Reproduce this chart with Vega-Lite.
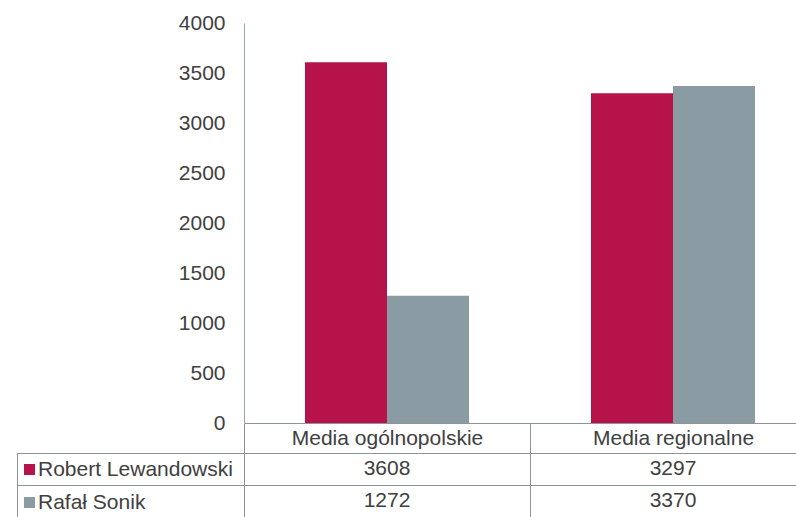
{
  "$schema": "https://vega.github.io/schema/vega-lite/v6.json",
  "padding": {"left": 16, "top": 12, "right": 0, "bottom": 0},
  "background": "white",
  "config": {
    "font": "Liberation Sans",
    "view": {"stroke": null},
    "axis": {"labelFont": "Liberation Sans", "labelFontSize": 21, "labelColor": "#404040", "labelLimit": 0}
  },
  "datasets": {
    "bars": [
      {"category": "Media ogólnopolskie", "series": "Robert Lewandowski", "value": 3608},
      {"category": "Media ogólnopolskie", "series": "Rafał Sonik", "value": 1272},
      {"category": "Media regionalne", "series": "Robert Lewandowski", "value": 3297},
      {"category": "Media regionalne", "series": "Rafał Sonik", "value": 3370}
    ]
  },
  "columns": 2,
  "spacing": {"row": 30, "column": 0},
  "bounds": "flush",
  "concat": [
    {
      "width": 227,
      "height": 400,
      "data": {"name": "bars"},
      "mark": {"type": "text", "text": ""},
      "encoding": {}
    },
    {
      "width": 572,
      "height": 400,
      "data": {"name": "bars"},
      "mark": {"type": "bar"},
      "encoding": {
        "x": {
          "field": "category", "type": "nominal",
          "sort": ["Media ogólnopolskie", "Media regionalne"],
          "scale": {"paddingInner": 0, "paddingOuter": 0},
          "axis": {
            "title": null, "orient": "bottom", "labelAngle": 0,
            "tickBand": "extent", "tickSize": 30, "tickColor": "#8C9497",
            "domainColor": "#8C9497", "labelPadding": -9, "labelBaseline": "alphabetic"
          }
        },
        "xOffset": {
          "field": "series", "type": "nominal",
          "sort": ["Robert Lewandowski", "Rafał Sonik"],
          "scale": {"paddingInner": 0, "paddingOuter": 0.744}
        },
        "y": {
          "field": "value", "type": "quantitative",
          "scale": {"domain": [0, 4000]},
          "axis": {
            "title": null, "values": [0, 500, 1000, 1500, 2000, 2500, 3000, 3500, 4000],
            "format": "d",
            "grid": false, "ticks": false, "labelPadding": 19, "domainColor": "#9AA4AE"
          }
        },
        "color": {
          "field": "series", "type": "nominal",
          "scale": {"domain": ["Robert Lewandowski", "Rafał Sonik"], "range": ["#B5134A", "#8A9BA3"]},
          "legend": {
            "title": null, "orient": "none", "legendX": 2, "legendY": 436,
            "padding": 0, "symbolType": "square", "symbolSize": 121, "symbolStrokeWidth": 0,
            "labelFontSize": 21, "labelColor": "#404040", "labelFont": "Liberation Sans",
            "labelOffset": -2, "rowPadding": 11, "labelLimit": 0
          }
        }
      }
    },
    {
      "width": 227,
      "height": 64,
      "view": {"stroke": "#8C9497"},
      "data": {"name": "bars"},
      "mark": {"type": "text", "text": ""},
      "encoding": {
        "y": {
          "field": "series", "type": "nominal",
          "sort": ["Robert Lewandowski", "Rafał Sonik"],
          "scale": {"paddingInner": 0, "paddingOuter": 0},
          "axis": {"title": null, "grid": true, "tickBand": "extent", "gridColor": "#8C9497", "labels": false, "ticks": false, "domain": false}
        }
      }
    },
    {
      "width": 572,
      "height": 64,
      "view": {"stroke": "#8C9497"},
      "data": {"name": "bars"},
      "mark": {"type": "text", "fontSize": 21, "color": "#404040", "baseline": "middle"},
      "encoding": {
        "x": {
          "field": "category", "type": "nominal",
          "sort": ["Media ogólnopolskie", "Media regionalne"],
          "scale": {"paddingInner": 0, "paddingOuter": 0},
          "axis": {"title": null, "grid": true, "tickBand": "extent", "gridColor": "#8C9497", "labels": false, "ticks": false, "domain": false}
        },
        "y": {
          "field": "series", "type": "nominal",
          "sort": ["Robert Lewandowski", "Rafał Sonik"],
          "scale": {"paddingInner": 0, "paddingOuter": 0},
          "axis": {"title": null, "grid": true, "tickBand": "extent", "gridColor": "#8C9497", "labels": false, "ticks": false, "domain": false}
        },
        "text": {"field": "value", "type": "quantitative", "format": "d"}
      }
    }
  ]
}
